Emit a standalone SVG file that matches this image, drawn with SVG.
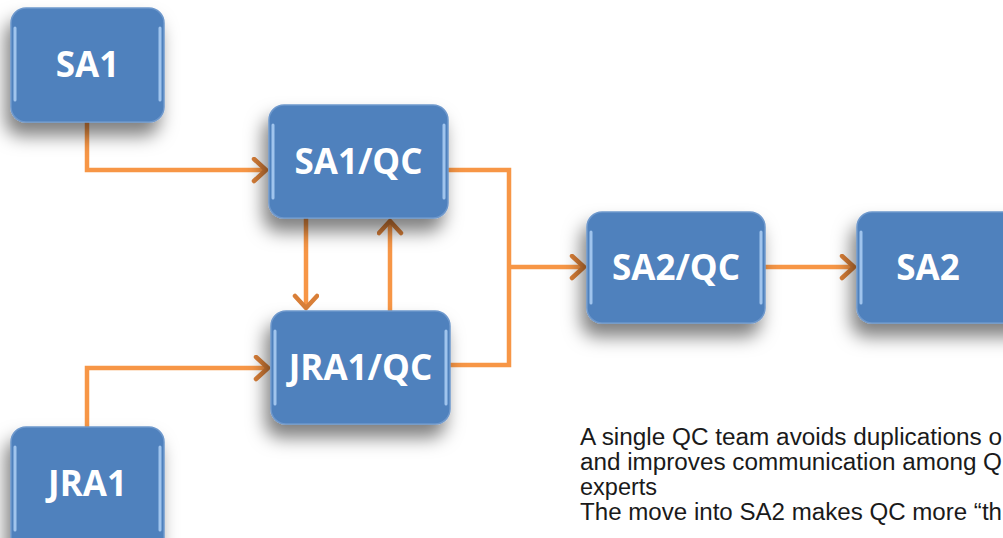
<svg xmlns="http://www.w3.org/2000/svg" width="1003" height="538" viewBox="0 0 1003 538">
<style>
.box{fill:#4F81BD;stroke:#6E98CC;stroke-width:1.5}
.hl{fill:none;stroke:#A9CBF2;stroke-width:3;stroke-linecap:round;opacity:0.9}
.lbl{font-family:"Open Sans","Noto Sans",sans-serif;font-weight:bold;font-size:35px;fill:#FFFFFF;text-anchor:middle}
.con{fill:none;stroke:#F79646;stroke-width:4.5;stroke-linejoin:miter}
.note{font-family:"Liberation Sans",Arial,sans-serif;font-size:23.5px;fill:#1a1a1a}
</style>
<defs>
<filter id="sh" x="-30%" y="-30%" width="160%" height="180%">
<feDropShadow dx="-5" dy="13" stdDeviation="9" flood-color="#000" flood-opacity="0.5"/>
</filter>
<marker id="ah" markerUnits="userSpaceOnUse" markerWidth="18" markerHeight="28" refX="15" refY="13" orient="auto">
<path d="M3,2 L15,13 L3,24" fill="none" stroke="#D97F38" stroke-width="4.5" stroke-linecap="round" stroke-linejoin="round"/>
</marker>
</defs>
<g id="connectors">
<path class="con" d="M87,122 V170 H266" marker-end="url(#ah)"/>
<path class="con" d="M87,427 V368 H268" marker-end="url(#ah)"/>
<path class="con" d="M306,218 V308" marker-end="url(#ah)"/>
<path class="con" d="M390,311 V221" marker-end="url(#ah)"/>
<path class="con" d="M448,170 H509 V365 H450"/>
<path class="con" d="M509,267 H584" marker-end="url(#ah)"/>
<path class="con" d="M765,267 H854" marker-end="url(#ah)"/>
</g>
<g id="n-sa1">
<rect class="box" x="11" y="8" width="153" height="114" rx="15" filter="url(#sh)"/>
<path class="hl" d="M15,28 V100 M160,28 V100"/>
<text class="lbl" x="87.5" y="77">SA1</text>
</g>
<g id="n-sa1qc">
<rect class="box" x="269" y="105" width="179" height="113" rx="15" filter="url(#sh)"/>
<path class="hl" d="M273,125 V198 M444,125 V198"/>
<text class="lbl" x="358.5" y="174">SA1/QC</text>
</g>
<g id="n-jra1qc">
<rect class="box" x="271" y="311" width="179" height="113" rx="15" filter="url(#sh)"/>
<path class="hl" d="M275,331 V404 M446,331 V404"/>
<text class="lbl" x="360.5" y="380">JRA1/QC</text>
</g>
<g id="n-sa2qc">
<rect class="box" x="587" y="212" width="178" height="111" rx="15" filter="url(#sh)"/>
<path class="hl" d="M591,232 V303 M761,232 V303"/>
<text class="lbl" x="676" y="280">SA2/QC</text>
</g>
<g id="n-sa2">
<rect class="box" x="857" y="212" width="178" height="111" rx="15" filter="url(#sh)"/>
<path class="hl" d="M861,232 V303"/>
<text class="lbl" x="928" y="280">SA2</text>
</g>
<g id="n-jra1">
<rect class="box" x="11" y="427" width="153" height="130" rx="15" filter="url(#sh)"/>
<path class="hl" d="M15,447 V530 M160,447 V530"/>
<text class="lbl" x="87.5" y="496">JRA1</text>
</g>
<g id="note">
<text class="note" x="580" y="445" textLength="422" lengthAdjust="spacingAndGlyphs">A single QC team avoids duplications o</text>
<text class="note" x="580" y="470" textLength="422" lengthAdjust="spacingAndGlyphs">and improves communication among Q</text>
<text class="note" x="580" y="495">experts</text>
<text class="note" x="580" y="520" textLength="422" lengthAdjust="spacingAndGlyphs">The move into SA2 makes QC more “th</text>
</g>
</svg>
